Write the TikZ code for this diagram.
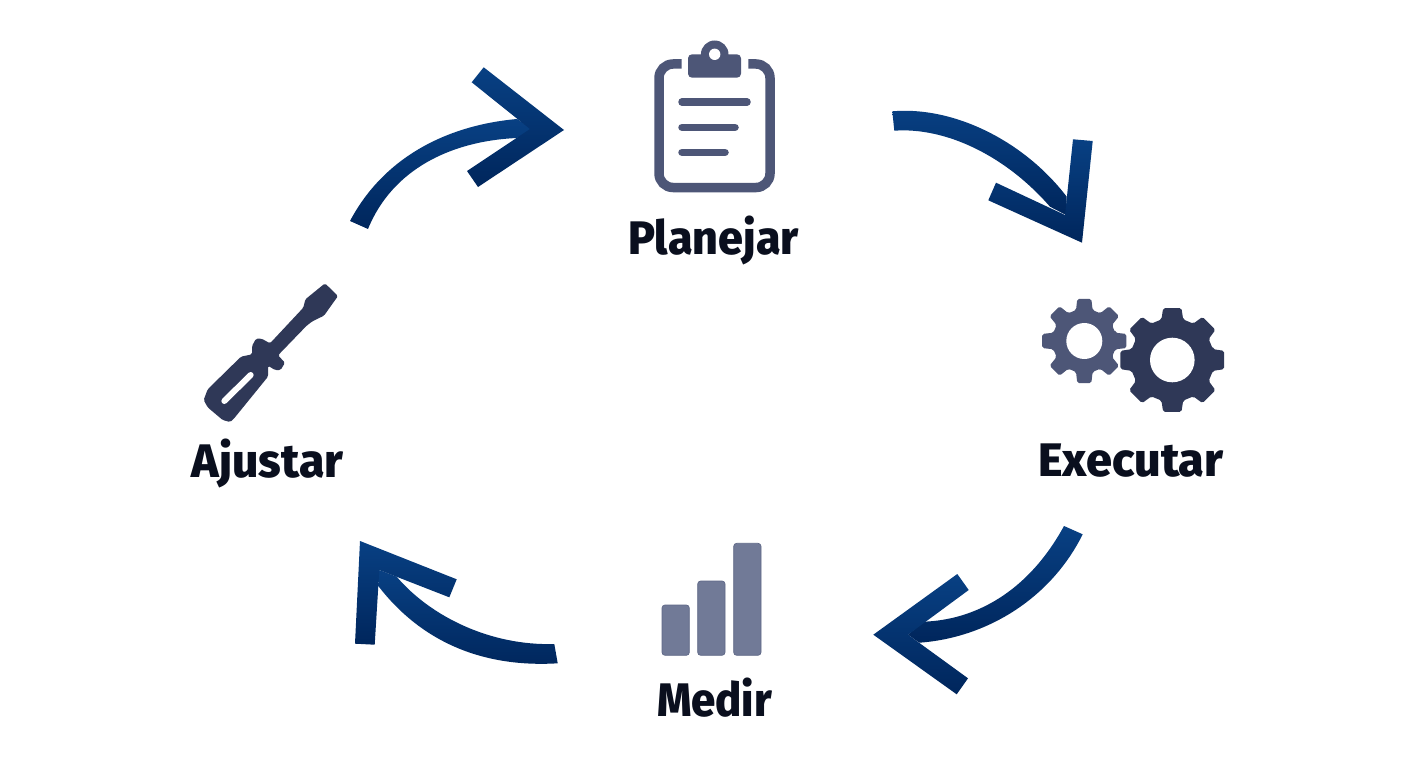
\documentclass[tikz,border=0pt]{standalone}
\usepackage{fontspec}
\setmainfont{Fira Sans}
\newfontfamily\steplabelfont{Fira Sans ExtraBold}[FakeStretch=0.93]
\definecolor{slateicon}{HTML}{4D5677}
\definecolor{darkicon}{HTML}{2F3857}
\definecolor{baricon}{HTML}{717A97}
\definecolor{barline}{HTML}{5F6887}
\definecolor{labelink}{HTML}{0A0F1E}
\definecolor{flowtop}{HTML}{084083}
\definecolor{flowbot}{HTML}{00265C}
\tikzset{
  flow/.style={top color=flowtop,bottom color=flowbot,draw=none},
  steplabel/.style={font=\steplabelfont\fontsize{47}{50}\selectfont,text=labelink,inner sep=0pt,anchor=center},
  zoomed/.style={x=0.33333pt,y=-0.33333pt},
}
\newcommand{\cogwheel}[8]{% cx cy rvalley rtip baseangle tipangle rhole colour
  \begin{scope}[shift={(#1,#2)}]
    \fill[#8,even odd rule,rounded corners=1.8pt]
      (0-#5:#3)
      \foreach \a in {0,45,...,315}{
        -- (\a-#5:#3) -- (\a-#6:#4) -- (\a+#6:#4) -- (\a+#5:#3)
      } -- cycle;
    \fill[white] (0,0) circle[radius=#7];
  \end{scope}}
\begin{document}
\begin{tikzpicture}[x=1pt,y=-1pt]
\useasboundingbox (0,0) rectangle (1408,768);
\fill[white] (0,0) rectangle (1408,768);

% arrow Ajustar -> Planejar
\path[flow] (350,221) .. controls (385,155) and (450,125) .. (517,119) -- (532,129) -- (517,138) .. controls (450,141) and (392,170) .. (368,229) -- cycle;
\path[flow] (483.7,67.3) -- (564,130) -- (478,187) -- (467,171) -- (530,129) -- (471.7,82.3) -- cycle;

% arrow Planejar -> Executar
\path[flow] (892.3,111.3) .. controls (955,106) and (1025,142) .. (1066.7,196.7) -- (1066,215) -- (1050,206.7) .. controls (1005,155) and (945,127) .. (894.3,130.7) -- cycle;
\path[flow] (1073,139.3) -- (1092.7,141) -- (1082,242.7) -- (988.3,200.3) -- (996,182.7) -- (1065,215) -- cycle;

% arrow Executar -> Medir
\path[flow] (1064,526) .. controls (1028,592) and (975,620) .. (923.3,621.7) -- (908,634.7) -- (919.3,642.7) .. controls (985,638) and (1050,600) .. (1082.7,534.3) -- cycle;
\path[flow] (957.3,574) -- (968.7,590) -- (908,634.7) -- (968,678.3) -- (956.7,694.3) -- (873.3,634.7) -- cycle;

% arrow Medir -> Ajustar
\path[flow] (554.3,644) .. controls (490,646) and (430,616) .. (396.7,576.7) -- (379.3,570) -- (378.3,586) .. controls (420,640) and (480,668) .. (557.7,663.3) -- cycle;
\path[flow] (360,541) -- (456.7,579.3) -- (449.3,597.3) -- (379.3,570) -- (374.7,644.7) -- (355,643.7) -- cycle;

% clipboard
\draw[slateicon,line width=9.5pt,rounded corners=14pt] (681.7,64) -- (659,64) -- (659,187.5) -- (770,187.5) -- (770,64) -- (748.3,64);
\fill[slateicon,rounded corners=4pt] (688,54.3) rectangle (741,77.7);
\fill[slateicon] (714.7,54.3) circle[radius=13.8];
\fill[white] (714.7,54.3) circle[radius=5.7];
\draw[slateicon,line width=7.5pt,line cap=round] (682,102) -- (747,102);
\draw[slateicon,line width=7.5pt,line cap=round] (682,127.3) -- (735,127.3);
\draw[slateicon,line width=7.5pt,line cap=round] (682,152.3) -- (725,152.3);

% gears
\cogwheel{1084.3}{341}{32}{42.7}{15}{9.5}{18}{slateicon}
\cogwheel{1172.3}{360}{42}{52.7}{15}{10}{22.3}{darkicon}

% bars
\foreach \xa/\xb/\yt in {662/689.3/605,697.7/725/581,733.7/761/543.3}{
  \filldraw[fill=baricon,draw=barline,line width=0.7pt,rounded corners=3pt] (\xa,\yt) rectangle (\xb,655.3);
}

% screwdriver
\begin{scope}[shift={(180,270)},zoomed]
  \fill[darkicon,rounded corners=1.5pt] (435,40) -- (474,78) -- (432,137) -- (397,154) -- (380,167) -- (294,256) -- (315,278) -- (302,300) -- (285,300) -- (264,287) -- (264,320) -- (160,448) -- (150,456) -- (128,450) -- (83,412) -- (71,390) -- (83,358) -- (183,260) -- (216,253) -- (216,228) -- (228,206) -- (245,206) -- (270,220) -- (356,128) -- (370,113) -- (376,88) -- cycle;
  \draw[white,line width=6pt,line cap=round] (133,393) -- (212,315);
\end{scope}

% labels
\node[steplabel] (planejar) at (713.5,240) {\scalebox{1.025}[1]{Planejar}};
\node[steplabel] (executar) at (1131,461) {\scalebox{1.07}[1]{Executar}};
\node[steplabel] (medir) at (714.5,698) {Medir};
\node[steplabel] (ajustar) at (267.5,463) {\scalebox{1.06}[1]{Ajustar}};
\end{tikzpicture}
\end{document}
